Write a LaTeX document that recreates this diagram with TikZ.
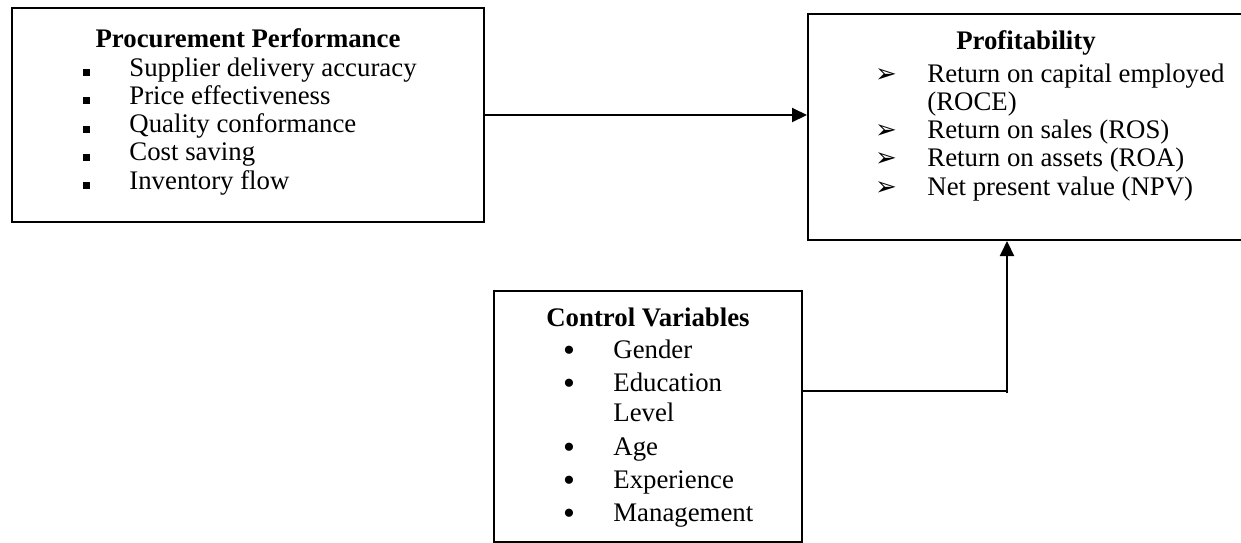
\documentclass[tikz,border=0pt]{standalone}
\usepackage{fontspec}
\setmainfont{Liberation Serif}
\newfontfamily\symfont{DejaVu Sans}
\usetikzlibrary{positioning}
\usetikzlibrary{arrows.meta}

\tikzset{
  frame/.style={rectangle, draw=black, line width=1pt, inner sep=0pt},
  head/.style={inner sep=0pt, anchor=base, font=\fontsize{13.4}{15}\selectfont\bfseries},
  item/.style={inner sep=0pt, anchor=base west, font=\fontsize{13.4}{15}\selectfont},
  sqbullet/.style={rectangle, fill=black, minimum size=3.5pt, inner sep=0pt},
  arrbullet/.style={inner sep=0pt, anchor=base, font=\fontsize{13}{14}\selectfont\symfont},
  dotbullet/.style={inner sep=0pt, anchor=base, yshift=-1.5pt, font=\fontsize{17}{18}\selectfont},
  link/.style={line width=1pt, color=black},
  tip/.style={-{Triangle[length=7.5pt, width=7pt]}}
}

\begin{document}
\begin{tikzpicture}
\useasboundingbox (0pt, 0pt) rectangle (620.5pt, -271pt);
% boxes
\node (perf) [frame, minimum width=236pt, minimum height=107pt] at (124pt, -57.5pt) {};
\node (prof) [frame, minimum width=218.5pt, minimum height=113pt] at (513.25pt, -63.5pt) {};
\node (ctrl) [frame, line width=0.75pt, minimum width=154pt, minimum height=125.5pt] at (324pt, -208.25pt) {};
% procurement performance
\node (perft) [head] at (124pt, -23.5pt) {Procurement Performance};
\node (p1) [item] at (64.5pt, -38pt) {Supplier delivery accuracy};
\node (p2) [item] at (64.5pt, -52.15pt) {Price effectiveness};
\node (p3) [item] at (64.5pt, -66.3pt) {Quality conformance};
\node (p4) [item] at (64.5pt, -80.45pt) {Cost saving};
\node (p5) [item] at (64.5pt, -94.6pt) {Inventory flow};
\node (pb1) [sqbullet] at (43.25pt, -36.25pt) {};
\node (pb2) [sqbullet] at (43.25pt, -50.4pt) {};
\node (pb3) [sqbullet] at (43.25pt, -64.55pt) {};
\node (pb4) [sqbullet] at (43.25pt, -78.7pt) {};
\node (pb5) [sqbullet] at (43.25pt, -92.85pt) {};
% profitability
\node (proft) [head] at (513pt, -24.5pt) {Profitability};
\node (r1) [item] at (463.5pt, -41pt) {Return on capital employed};
\node (r1b) [item] at (463.5pt, -55pt) {(ROCE)};
\node (r2) [item] at (463.5pt, -69pt) {Return on sales (ROS)};
\node (r3) [item] at (463.5pt, -83.25pt) {Return on assets (ROA)};
\node (r4) [item] at (463.5pt, -97.5pt) {Net present value (NPV)};
\node (rb1) [arrbullet] at (443pt, -41pt) {➢};
\node (rb2) [arrbullet] at (443pt, -69pt) {➢};
\node (rb3) [arrbullet] at (443pt, -83.25pt) {➢};
\node (rb4) [arrbullet] at (443pt, -97.5pt) {➢};
% control variables
\node (ctrlt) [head] at (324pt, -163pt) {Control Variables};
\node (c1) [item] at (306.5pt, -179pt) {Gender};
\node (c2) [item] at (306.5pt, -195.5pt) {Education};
\node (c2b) [item] at (306.5pt, -210.5pt) {Level};
\node (c3) [item] at (306.5pt, -227.5pt) {Age};
\node (c4) [item] at (306.5pt, -244pt) {Experience};
\node (c5) [item] at (306.5pt, -260.5pt) {Management};
\node (cb1) [dotbullet] at (284.5pt, -179pt) {•};
\node (cb2) [dotbullet] at (284.5pt, -195.5pt) {•};
\node (cb3) [dotbullet] at (284.5pt, -227.5pt) {•};
\node (cb4) [dotbullet] at (284.5pt, -244pt) {•};
\node (cb5) [dotbullet] at (284.5pt, -260.5pt) {•};
% links
\coordinate (turn) at (503.5pt, -195.5pt);
\draw [link, tip] (perf.east) -- (perf.east -| prof.west);
\draw [link, line width=0.75pt] (ctrl.east |- turn) -- (turn);
\draw [link, tip] ([yshift=-1pt]turn) -- (turn |- prof.south);
\end{tikzpicture}
\end{document}
